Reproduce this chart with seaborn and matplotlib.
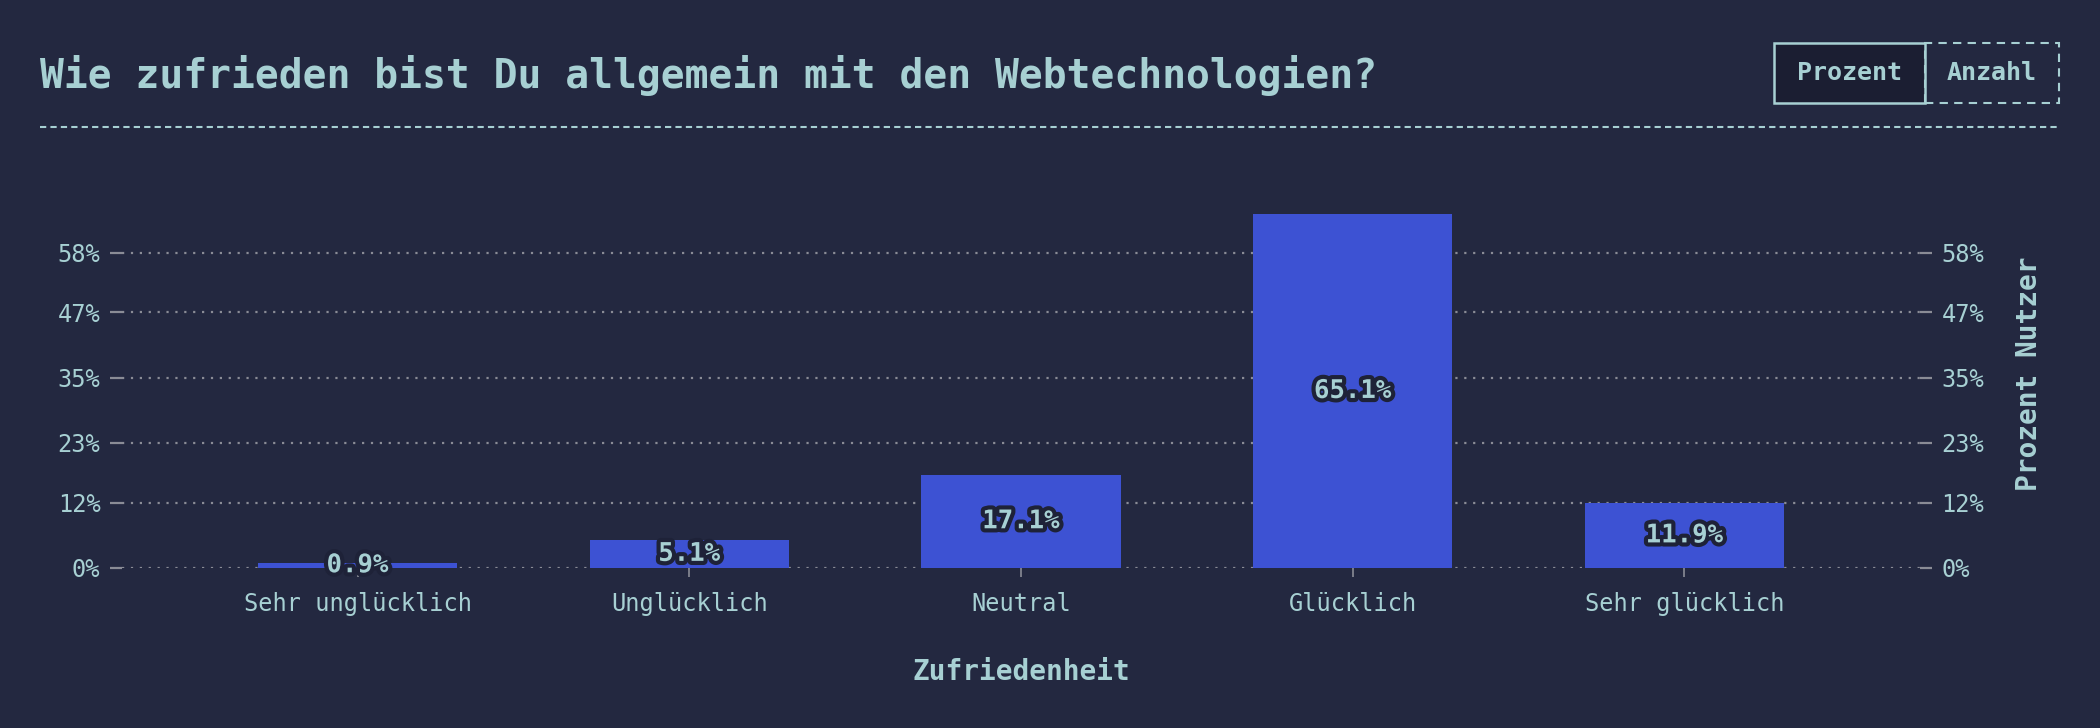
import matplotlib
matplotlib.use('Agg')
import matplotlib.pyplot as plt
import matplotlib.patheffects as pe
from matplotlib.patches import Rectangle
from matplotlib.lines import Line2D
import pandas as pd
import seaborn as sns

BG = '#232840'
FG = '#a7d0d3'
BAR = '#3d52d3'
GRID = '#8a8c96'

categories = ['Sehr unglücklich', 'Unglücklich', 'Neutral', 'Glücklich', 'Sehr glücklich']
percent = [0.9, 5.1, 17.1, 65.1, 11.9]
ytick_values = [0, 12, 23, 35, 47, 58]
ytick_labels = ['0%', '12%', '23%', '35%', '47%', '58%']

sns.set_theme(style='dark')
plt.rcParams['font.family'] = ['DejaVu Sans Mono', 'DejaVu Sans']
plt.rcParams['figure.facecolor'] = BG
plt.rcParams['axes.facecolor'] = BG

df = pd.DataFrame({'Zufriedenheit': categories, 'Prozent': percent})

fig = plt.figure(figsize=(21, 7.28), dpi=100)
ax = fig.add_axes([122 / 2100, 1 - 567.7 / 728, (1920 - 122) / 2100, 387.7 / 728])

sns.barplot(data=df, x='Zufriedenheit', y='Prozent', color=BAR, width=0.6,
            saturation=1, edgecolor=BAR, linewidth=0, ax=ax, zorder=3)

ax.set_xlim(-0.71, 4.71)
ax.set_ylim(0, 71.4)
for s in ax.spines.values():
    s.set_visible(False)

ax.set_yticks(ytick_values)
ax.set_yticklabels(ytick_labels)
ax.yaxis.grid(True, color=GRID, linestyle=(0, (1, 3)), linewidth=1.6, zorder=0)
ax.xaxis.grid(False)
ax.tick_params(axis='y', left=True, right=True, labelleft=True, labelright=True,
               length=8.5, width=1.6, color=GRID, labelcolor=FG, labelsize=17, pad=7)
ax.tick_params(axis='x', bottom=True, length=6.5, width=1.2, color=GRID,
               labelcolor=FG, labelsize=17, pad=11)

ax.set_xlabel('Zufriedenheit', color=FG, fontsize=20, fontweight='bold', labelpad=30)
ax.yaxis.set_label_position('right')
ax.set_ylabel('Prozent Nutzer', color=FG, fontsize=20, fontweight='bold', labelpad=22)

for i, v in enumerate(percent):
    ax.text(i, v / 2, f'{v}%', ha='center', va='center', color=FG, fontsize=18.5,
            fontweight='bold', zorder=5,
            path_effects=[pe.withStroke(linewidth=6, foreground='#1e2238')])

# title and separator
fig.text(40 / 2100, 1 - 88 / 728, 'Wie zufrieden bist Du allgemein mit den Webtechnologien?',
         color=FG, fontsize=28.5, fontweight='bold', va='baseline', ha='left')
fig.add_artist(Line2D([40 / 2100, 2059 / 2100], [1 - 127 / 728] * 2, color=FG,
                      linewidth=1.5, linestyle=(0, (3, 2))))

# toggle buttons
fig.add_artist(Rectangle((1774 / 2100, 1 - 103 / 728), 151 / 2100, 60 / 728,
                         facecolor='#1b1e32', edgecolor=FG, linewidth=1.8,
                         transform=fig.transFigure))
fig.add_artist(Rectangle((1925 / 2100, 1 - 103 / 728), 134 / 2100, 60 / 728,
                         facecolor='none', edgecolor=FG, linewidth=1.5,
                         linestyle=(0, (4, 3)), transform=fig.transFigure))
fig.text(1849.5 / 2100, 1 - 73 / 728, 'Prozent', color=FG, fontsize=18,
         fontweight='bold', ha='center', va='center')
fig.text(1992 / 2100, 1 - 73 / 728, 'Anzahl', color=FG, fontsize=18,
         fontweight='bold', ha='center', va='center')

fig.savefig('out.png', dpi=100, facecolor=BG)
